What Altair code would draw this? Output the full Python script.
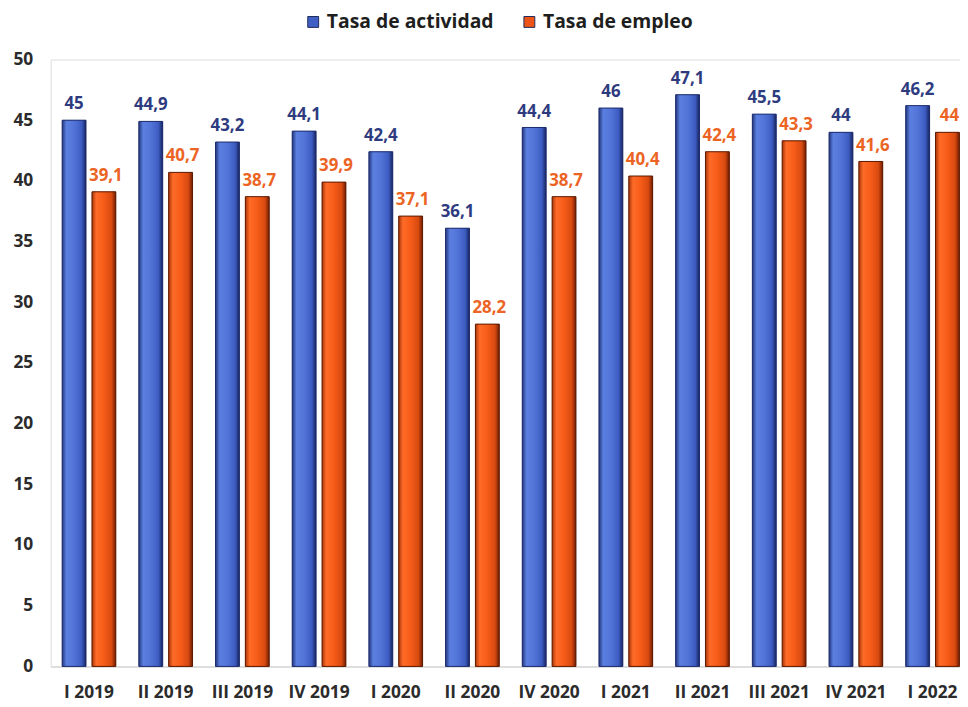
import altair as alt
import pandas as pd

categorias = ["I 2019", "II 2019", "III 2019", "IV 2019", "I 2020", "II 2020",
              "IV 2020", "I 2021", "II 2021", "III 2021", "IV 2021", "I 2022"]
actividad = [45, 44.9, 43.2, 44.1, 42.4, 36.1, 44.4, 46, 47.1, 45.5, 44, 46.2]
empleo = [39.1, 40.7, 38.7, 39.9, 37.1, 28.2, 38.7, 40.4, 42.4, 43.3, 41.6, 44]
series = ["Tasa de actividad", "Tasa de empleo"]
y_ticks = [0, 5, 10, 15, 20, 25, 30, 35, 40, 45, 50]

rows = []
for i, c in enumerate(categorias):
    for s, vals in zip(series, [actividad, empleo]):
        v = vals[i]
        rows.append({"periodo": c, "serie": s, "valor": v,
                     "etiqueta": str(v).replace(".", ",")})
df = pd.DataFrame(rows)

FONT = "Open Sans"

x = alt.X("periodo:N", sort=categorias,
          scale=alt.Scale(domain=categorias, range=[0, 928],
                          paddingInner=0.3, paddingOuter=0.15),
          axis=alt.Axis(title=None, labelAngle=0, ticks=False,
                        domainColor="#d9d9d9", domainWidth=1.5,
                        labelFontSize=17.5, labelFontWeight="bold",
                        labelColor="#2b2b2b", labelPadding=17, labelFont=FONT))
xo = alt.XOffset("serie:N", scale=alt.Scale(domain=series, paddingInner=0.2,
                                             paddingOuter=0))
y = alt.Y("valor:Q", scale=alt.Scale(domain=[0, 50]),
          axis=alt.Axis(title=None, values=y_ticks, grid=False, domain=False,
                        ticks=False, labelFontSize=17.5, labelFontWeight="bold",
                        labelColor="#2b2b2b", labelPadding=18, labelFont=FONT))

grad_blue = {"gradient": "linear", "x1": 0, "x2": 1, "y1": 0, "y2": 0,
             "stops": [{"offset": 0, "color": "#24377e"},
                       {"offset": 0.18, "color": "#5b7fe0"},
                       {"offset": 0.5, "color": "#5274d8"},
                       {"offset": 0.82, "color": "#3d5cc2"},
                       {"offset": 1, "color": "#17245e"}]}
grad_orange = {"gradient": "linear", "x1": 0, "x2": 1, "y1": 0, "y2": 0,
               "stops": [{"offset": 0, "color": "#a8360a"},
                         {"offset": 0.18, "color": "#ff6b28"},
                         {"offset": 0.5, "color": "#f65c18"},
                         {"offset": 0.82, "color": "#d84a10"},
                         {"offset": 1, "color": "#6e1d02"}]}

base = alt.Chart(df)

solid = base.mark_bar().encode(
    x=x, xOffset=xo, y=y,
    color=alt.Color("serie:N",
                    scale=alt.Scale(domain=series, range=["#3f5fc4", "#ec5418"]),
                    legend=alt.Legend(title=None, orient="none", direction="horizontal",
                                      legendX=255, legendY=-48,
                                      symbolType="square", symbolSize=120,
                                      symbolStrokeColor="#1e2a5a", symbolStrokeWidth=1,
                                      labelFontSize=19.5, labelFontWeight="bold",
                                      labelColor="#1e1e1e", labelFont=FONT,
                                      columnPadding=26, labelOffset=4,
                                      labelLimit=300)),
)

bars_a = base.transform_filter(alt.datum.serie == series[0]).mark_bar(
    fill=grad_blue, stroke="#1c2a6a", strokeWidth=1).encode(x=x, xOffset=xo, y=y)
bars_e = base.transform_filter(alt.datum.serie == series[1]).mark_bar(
    fill=grad_orange, stroke="#5a1800", strokeWidth=1).encode(x=x, xOffset=xo, y=y)

text_a = base.transform_filter(alt.datum.serie == series[0]).mark_text(
    baseline="alphabetic", dy=-11, fontSize=17, fontWeight="bold", color="#2e3b7e",
    font=FONT).encode(x=x, xOffset=xo, y=y, text="etiqueta:N")
text_e = base.transform_filter(alt.datum.serie == series[1]).mark_text(
    baseline="alphabetic", dy=-11, dx=2, fontSize=17, fontWeight="bold", color="#ec6424",
    font=FONT).encode(x=x, xOffset=xo, y=y, text="etiqueta:N")

chart = alt.layer(solid, bars_a, bars_e, text_a, text_e).properties(
    width=917, height=612,
    autosize=alt.AutoSizeParams(type="none"),
    padding={"left": 43, "top": 49, "right": 0, "bottom": 38},
).configure_view(stroke=None).configure(background="white")

chart.save("out.html", embed_options={"renderer": "svg", "actions": False})
